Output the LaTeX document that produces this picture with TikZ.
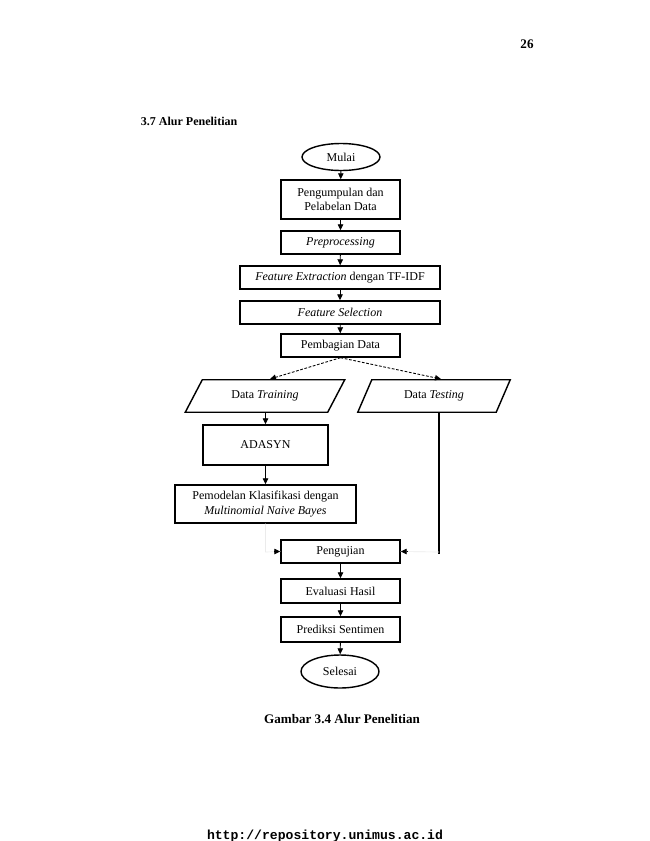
\documentclass[tikz,border=0pt]{standalone}
\usepackage{fontspec}
\setmainfont{Liberation Serif}
\setmonofont{Liberation Mono}
\usetikzlibrary{shapes.geometric,arrows.meta}
\def\u{0.9154pt}
\begin{document}
\begin{tikzpicture}[x=\u,y=-\u,
  box/.style={draw,line width=1.3pt,rectangle,inner sep=1pt,align=center,font=\fontsize{11}{13}\selectfont},
  term/.style={draw,line width=1.3pt,ellipse,inner sep=0pt,font=\fontsize{11}{13}\selectfont},
  io/.style={rectangle,inner sep=0pt,align=center,font=\fontsize{11}{13}\selectfont},
  para/.style={line width=1.3pt,line join=miter},
  conn/.style={line width=0.8pt,-{Triangle[length=5.5pt,width=5pt]}},
  dconn/.style={line width=0.8pt,dash pattern=on 2.5pt off 1.5pt,-{Triangle[length=5.5pt,width=5pt]}},
  faint/.style={line width=0.6pt,black!8}]
\useasboundingbox (0,0) rectangle (650,841);
\node[font=\fontsize{12}{14}\selectfont\bfseries] (pg) at (527,44) {26};
\node[anchor=west,font=\fontsize{11}{12}\selectfont\bfseries] (head) at (137,121) {3.7 Alur Penelitian};
\node[term,minimum width=78*\u,minimum height=27*\u] (mulai) at (341,157) {Mulai};
\node[box,minimum width=119*\u,minimum height=39*\u] (kumpul) at (340.5,199.5) {Pengumpulan dan\\Pelabelan Data};
\node[box,minimum width=119*\u,minimum height=23*\u] (prep) at (340.5,242.5) {\itshape Preprocessing};
\node[box,minimum width=200*\u,minimum height=23*\u] (ext) at (340,277.5) {\textit{Feature Extraction} dengan TF-IDF};
\node[box,minimum width=200*\u,minimum height=23*\u] (sel) at (340,312.5) {\itshape Feature Selection};
\node[box,minimum width=119*\u,minimum height=23*\u] (bagi) at (340.5,345.5) {Pembagian Data};
\node[io,minimum width=142*\u,minimum height=32*\u] (train) at (265,396) {Data \textit{Training}};
\node[io,minimum width=138*\u,minimum height=32*\u] (test) at (434,396) {Data \textit{Testing}};
\draw[para] ([xshift=8.5*\u]train.north west) -- ([xshift=8.5*\u]train.north east) -- ([xshift=-8.5*\u]train.south east) -- ([xshift=-8.5*\u]train.south west) -- cycle;
\draw[para] ([xshift=7*\u]test.north west) -- ([xshift=7*\u]test.north east) -- ([xshift=-7*\u]test.south east) -- ([xshift=-7*\u]test.south west) -- cycle;
\node[box,minimum width=125*\u,minimum height=40*\u] (ada) at (265.5,445) {ADASYN};
\node[box,minimum width=181*\u,minimum height=38*\u] (model) at (265.5,504) {Pemodelan Klasifikasi dengan\\\textit{Multinomial Naive Bayes}};
\node[box,minimum width=119*\u,minimum height=23*\u] (uji) at (340.5,551.5) {Pengujian};
\node[box,minimum width=119*\u,minimum height=24*\u] (eval) at (340.5,591) {Evaluasi Hasil};
\node[box,minimum width=119*\u,minimum height=25*\u] (pred) at (340.5,629.5) {Prediksi Sentimen};
\node[term,minimum width=78*\u,minimum height=33*\u] (selesai) at (340,671.5) {Selesai};
\node[font=\fontsize{12}{14}\selectfont\bfseries] (cap) at (342,719) {Gambar 3.4 Alur Penelitian};
\node[font=\fontsize{12}{14}\selectfont\ttfamily\bfseries] (url) at (325,836) {http://repository.unimus.ac.id};
% connectors
\draw[conn] (mulai) -- (kumpul);
\draw[conn] (kumpul) -- (prep);
\draw[conn] (prep) -- (ext);
\draw[conn] (ext) -- (sel);
\draw[conn] (sel) -- (bagi);
\coordinate (tl) at (270,379);
\coordinate (tr) at (441,379);
\draw[dconn] (bagi.south) -- (tl);
\draw[dconn] (bagi.south) -- (tr);
\draw[conn] (ada.north |- train.south) -- (ada.north);
\draw[conn] (ada) -- (model);
\coordinate (lbend) at (265.5,552);
\coordinate (rbend) at (439,552);
\coordinate (rtop) at (439,412);
\draw[faint] (model.south) -- (lbend) -- (uji.west);
\draw[line width=1pt] (rtop) -- ([yshift=-1.5*\u]rbend);
\draw[faint] (rbend) -- (uji.east);
\draw[conn] ([xshift=-6*\u]uji.west) -- (uji.west);
\draw[conn] ([xshift=6*\u]uji.east) -- (uji.east);
\draw[conn] (uji) -- (eval);
\draw[conn] (eval) -- (pred);
\draw[conn] (pred) -- (selesai);
\end{tikzpicture}
\end{document}
